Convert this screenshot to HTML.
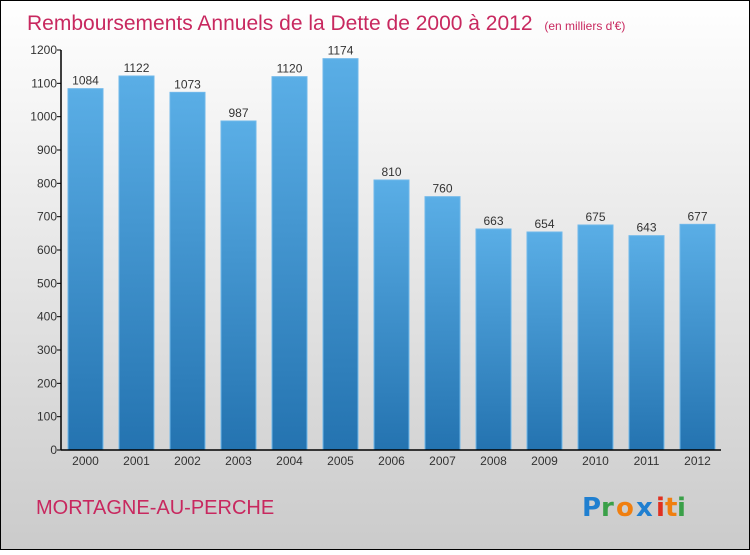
<!DOCTYPE html>
<html><head><meta charset="utf-8"><style>
body{margin:0;width:750px;height:550px;overflow:hidden;font-family:"Liberation Sans",sans-serif}
</style></head><body>
<svg id="c" width="750" height="550" xmlns="http://www.w3.org/2000/svg">
<defs>
<linearGradient id="bg" x1="0" y1="0" x2="0" y2="1"><stop offset="0" stop-color="#ffffff"/><stop offset="1" stop-color="#cbcbcb"/></linearGradient>
<linearGradient id="bar" x1="0" y1="0" x2="0" y2="1"><stop offset="0" stop-color="#5aaee6"/><stop offset="1" stop-color="#2473b0"/></linearGradient>
</defs>
<rect x="0.5" y="0.5" width="749" height="549" fill="url(#bg)" stroke="#000"/>
<text x="27" y="30" font-size="21" fill="#c8285f">Remboursements Annuels de la Dette de 2000 à 2012 <tspan font-size="12" dx="6">(en milliers d'€)</tspan></text>
<text x="36" y="514" font-size="20" fill="#c8285f">MORTAGNE-AU-PERCHE</text>
<g font-size="26" font-weight="bold" font-family="'DejaVu Sans',sans-serif">
<text x="582" y="516" fill="#1f7fd0">P</text><text x="601" y="516" fill="#3aa048">r</text><text x="616" y="516" fill="#f07f10">o</text><text x="636" y="516" fill="#1f7fd0">x</text><text x="656" y="516" fill="#e03020">i</text><text x="665" y="516" fill="#f07f10">t</text><text x="677" y="516" fill="#3aa048">i</text>
</g>
<g id="bars"></g>
<g id="axes"></g>
</svg>
<script>
const years=["2000","2001","2002","2003","2004","2005","2006","2007","2008","2009","2010","2011","2012"];
const values=[1084,1122,1073,987,1120,1174,810,760,663,654,675,643,677];
const yTicks=[0,100,200,300,400,500,600,700,800,900,1000,1100,1200];
const NS="http://www.w3.org/2000/svg";
const y0=450,yTop=50,yMax=1200,x0=61,xEnd=721;
const y=v=>y0-(v/yMax)*(y0-yTop);
const xc=i=>85.5+i*51;
function mk(t,a,p){const e=document.createElementNS(NS,t);for(const k in a)e.setAttribute(k,a[k]);p.appendChild(e);return e;}
const B=document.getElementById('bars'),A=document.getElementById('axes');
values.forEach((v,i)=>{
 const r=mk('rect',{x:xc(i)-17.5,y:y(v),width:35,height:y0-y(v),fill:'url(#bar)',stroke:'#6fb8ea','stroke-width':1},B);
 
 
 const t=mk('text',{x:xc(i),y:y(v)-4,'text-anchor':'middle','font-size':12,fill:'#333'},B);t.textContent=v;
 
 
 const xl=mk('text',{x:xc(i),y:465,'text-anchor':'middle','font-size':12,fill:'#333'},A);xl.textContent=years[i];
 
 
});
yTicks.forEach(v=>{
 mk('line',{x1:x0-4,x2:x0,y1:y(v),y2:y(v),stroke:'#000'},A);
 const t=mk('text',{x:x0-4,y:y(v)+4,'text-anchor':'end','font-size':12,fill:'#333'},A);t.textContent=v;
 
 
});
const ya=mk('line',{x1:x0,x2:x0,y1:yTop,y2:y0,stroke:'#000','stroke-width':1.5},A);


const xa=mk('line',{x1:x0,x2:xEnd,y1:y0,y2:y0,stroke:'#000','stroke-width':1.5},A);


</script>
</body></html>
